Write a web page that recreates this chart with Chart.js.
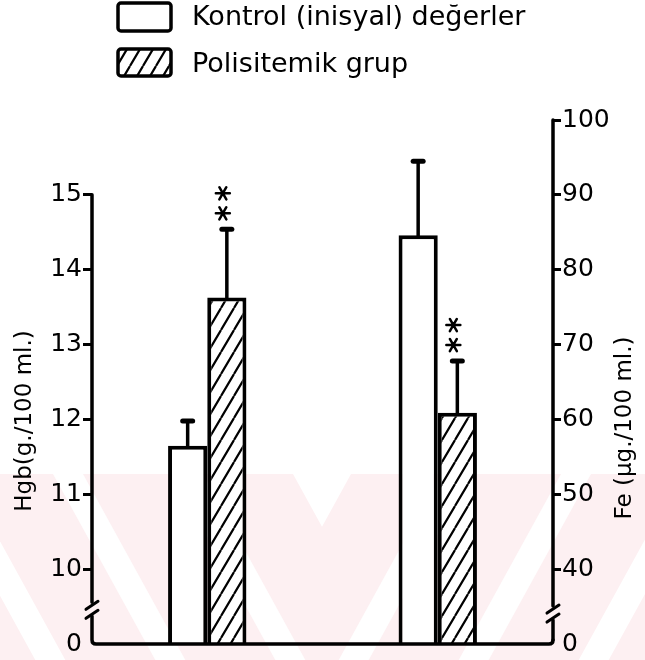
<!DOCTYPE html>
<html>
<head>
<meta charset="utf-8">
<script src="https://cdn.jsdelivr.net/npm/chart.js@4.4.0/dist/chart.umd.min.js"></script>
<style>
  html, body { margin: 0; padding: 0; background: #fff; }
  #wrap { width: 645px; height: 660px; position: relative; }
</style>
</head>
<body>
<div id="wrap"><canvas id="chart"></canvas></div>
<script>
// Data
const groups = ['Hgb', 'Fe'];
const seriesLabels = ['Kontrol (inisyal) değerler', 'Polisitemik grup'];
const hgbMeans = [11.65, 13.63];     // kontrol, polisitemik
const hgbErrTop = [11.98, 14.54];
const feMeans = [84.6, 60.9];
const feErrTop = [94.5, 67.8];
const hgbTicks = [9, 10, 11, 12, 13, 14, 15];   // 9 sits below the axis break
const hgbTickLabels = ['0', '10', '11', '12', '13', '14', '15'];
const feTicks = [30, 40, 50, 60, 70, 80, 90, 100]; // 30 sits below the axis break
const feTickLabels = ['0', '40', '50', '60', '70', '80', '90', '100'];
const hgbTitle = 'Hgb(g./100 ml.)';
const feTitle = 'Fe (µg./100 ml.)';

const FONT = '"DejaVu Sans", sans-serif';

// Hatch pattern for the polisitemik bars
function makeHatch() {
    const w = 13, h = 22;
    const c = document.createElement('canvas');
    c.width = w; c.height = h;
    const g = c.getContext('2d');
    g.fillStyle = '#fff';
    g.fillRect(0, 0, w, h);
    g.strokeStyle = '#000';
    g.lineWidth = 2.2;
    g.beginPath();
    for (let k = -2; k <= 2; k++) {
        g.moveTo(k * w, h);
        g.lineTo(k * w + w, 0);
    }
    g.stroke();
    return g.createPattern(c, 'repeat');
}
const hatch = makeHatch();

// Faint pink watermark of the scanned page
const watermark = {
    id: 'watermark',
    beforeDraw(chart) {
        const ctx = chart.ctx;
        const top = 474, bottom = 660, H = bottom - top, mid = 322;
        const slope = 0.55, sw = 30;
        ctx.save();
        ctx.fillStyle = '#fdf0f2';
        ctx.fillRect(0, top, chart.width, H);
        ctx.fillStyle = '#fff';
        ctx.save();
        ctx.beginPath();
        ctx.rect(0, top, mid, H);
        ctx.clip();
        [-67, 53, 173, 293].forEach(x0 => {
            ctx.beginPath();
            ctx.moveTo(x0, top);
            ctx.lineTo(x0 + sw, top);
            ctx.lineTo(x0 + sw + H * slope, bottom);
            ctx.lineTo(x0 + H * slope, bottom);
            ctx.closePath();
            ctx.fill();
        });
        ctx.restore();
        ctx.save();
        ctx.beginPath();
        ctx.rect(mid, top, chart.width - mid, H);
        ctx.clip();
        [351, 471, 591, 711].forEach(x0 => {
            ctx.beginPath();
            ctx.moveTo(x0, top);
            ctx.lineTo(x0 - sw, top);
            ctx.lineTo(x0 - sw - H * slope, bottom);
            ctx.lineTo(x0 - H * slope, bottom);
            ctx.closePath();
            ctx.fill();
        });
        ctx.restore();
        ctx.restore();
    }
};

function drawStar(ctx, x, y, r) {
    ctx.beginPath();
    for (let a = 0; a < 3; a++) {
        const t = a * Math.PI / 3;
        ctx.moveTo(x - r * Math.cos(t), y - r * Math.sin(t));
        ctx.lineTo(x + r * Math.cos(t), y + r * Math.sin(t));
    }
    ctx.stroke();
}

// Axes with breaks, error bars, asterisks, legend and titles
const decorations = {
    id: 'decorations',
    afterDatasetsDraw(chart) {
        const ctx = chart.ctx;
        const area = chart.chartArea;
        const yL = chart.scales.y, yR = chart.scales.y1;
        ctx.save();
        ctx.strokeStyle = '#000';
        ctx.fillStyle = '#000';
        ctx.lineWidth = 3.5;
        ctx.lineCap = 'round';

        // left axis with break
        const xl = area.left;
        const bl = yL.getPixelForValue(9.45);
        ctx.beginPath();
        ctx.moveTo(xl, yL.getPixelForValue(15));
        ctx.lineTo(xl, bl - 8);
        ctx.moveTo(xl, bl + 6);
        ctx.lineTo(xl, area.bottom - 4);
        ctx.quadraticCurveTo(xl, area.bottom, xl + 4, area.bottom);
        ctx.lineTo(area.right - 4, area.bottom);
        ctx.quadraticCurveTo(area.right, area.bottom, area.right, area.bottom - 4);
        ctx.stroke();
        ctx.lineWidth = 3;
        ctx.beginPath();
        ctx.moveTo(xl - 6, bl - 1); ctx.lineTo(xl + 6, bl - 9);
        ctx.moveTo(xl - 6, bl + 8); ctx.lineTo(xl + 6, bl);
        ctx.stroke();

        // right axis with break
        const xr = area.right;
        const br = yR.getPixelForValue(34);
        ctx.lineWidth = 3.5;
        ctx.beginPath();
        ctx.moveTo(xr, yR.getPixelForValue(100));
        ctx.lineTo(xr, br - 8);
        ctx.moveTo(xr, br + 6);
        ctx.lineTo(xr, area.bottom - 4);
        ctx.stroke();
        ctx.lineWidth = 3;
        ctx.beginPath();
        ctx.moveTo(xr - 6, br - 1); ctx.lineTo(xr + 6, br - 9);
        ctx.moveTo(xr - 6, br + 8); ctx.lineTo(xr + 6, br);
        ctx.stroke();

        // error bars and significance marks
        const errs = [[hgbErrTop[0], null], [hgbErrTop[1], null], [null, feErrTop[0]], [null, feErrTop[1]]];
        chart.data.datasets.forEach((ds, di) => {
            const meta = chart.getDatasetMeta(di);
            const scale = chart.scales[ds.yAxisID];
            meta.data.forEach((bar, i) => {
                const top = errs[di][i];
                if (top == null || ds.data[i] == null) return;
                const yTop = scale.getPixelForValue(top);
                ctx.lineWidth = 3.5;
                ctx.beginPath();
                ctx.moveTo(bar.x, bar.y);
                ctx.lineTo(bar.x, yTop);
                ctx.stroke();
                ctx.lineWidth = 5;
                ctx.beginPath();
                ctx.moveTo(bar.x - 5, yTop);
                ctx.lineTo(bar.x + 5, yTop);
                ctx.stroke();
                if (ds.sig) {
                    ctx.lineWidth = 2.5;
                    drawStar(ctx, bar.x - 4, yTop - 16, 7);
                    drawStar(ctx, bar.x - 4, yTop - 36, 7);
                }
            });
        });

        // legend
        ctx.lineWidth = 3.5;
        ctx.lineCap = 'butt';
        ctx.beginPath();
        ctx.roundRect(118, 3, 53, 28, 3);
        ctx.fillStyle = '#fff';
        ctx.fill();
        ctx.stroke();
        ctx.beginPath();
        ctx.roundRect(118, 49, 53, 27, 3);
        ctx.fillStyle = hatch;
        ctx.fill();
        ctx.stroke();
        ctx.fillStyle = '#000';
        ctx.font = '27px ' + FONT;
        ctx.textBaseline = 'middle';
        ctx.textAlign = 'left';
        ctx.fillText(seriesLabels[0], 192, 18, 358);
        ctx.fillText(seriesLabels[1], 192, 65, 250);

        // axis titles (both read bottom to top)
        ctx.font = '23px ' + FONT;
        ctx.textAlign = 'center';
        ctx.save();
        ctx.translate(25, 421);
        ctx.rotate(-Math.PI / 2);
        ctx.fillText(hgbTitle, 0, 0, 184);
        ctx.restore();
        ctx.save();
        ctx.translate(625, 428);
        ctx.rotate(-Math.PI / 2);
        ctx.fillText(feTitle, 0, 0, 206);
        ctx.restore();

        ctx.restore();
    }
};

const barStyle = { borderColor: '#000', borderWidth: 4, borderSkipped: 'bottom' };

const ctx = document.getElementById('chart').getContext('2d');
new Chart(ctx, {
    type: 'bar',
    data: {
        labels: groups,
        datasets: [
            Object.assign({ label: seriesLabels[0], data: [hgbMeans[0], null], yAxisID: 'y', backgroundColor: '#fff' }, barStyle),
            Object.assign({ label: seriesLabels[1], data: [hgbMeans[1], null], yAxisID: 'y', backgroundColor: hatch, sig: true }, barStyle),
            Object.assign({ label: seriesLabels[0], data: [null, feMeans[0]], yAxisID: 'y1', backgroundColor: '#fff' }, barStyle),
            Object.assign({ label: seriesLabels[1], data: [null, feMeans[1]], yAxisID: 'y1', backgroundColor: hatch, sig: true }, barStyle)
        ]
    },
    options: {
        responsive: true,
        maintainAspectRatio: false,
        animation: false,
        skipNull: true,
        barPercentage: 1,
        categoryPercentage: 0.34,
        layout: { padding: { top: 120, bottom: 5, left: 0, right: 0 } },
        plugins: {
            legend: { display: false },
            tooltip: { enabled: false }
        },
        scales: {
            x: { display: false },
            y: {
                position: 'left',
                min: 9,
                max: 16,
                afterBuildTicks: s => { s.ticks = hgbTicks.map(v => ({ value: v })); },
                afterFit: s => { s.width = 92; },
                ticks: {
                    callback: v => hgbTickLabels[hgbTicks.indexOf(v)],
                    color: '#000',
                    font: { family: FONT, size: 25 },
                    padding: 1
                },
                grid: {
                    drawOnChartArea: false,
                    tickLength: 9,
                    lineWidth: 3,
                    color: c => (c.tick && c.tick.value === 9) ? 'rgba(0,0,0,0)' : '#000'
                },
                border: { display: false }
            },
            y1: {
                position: 'right',
                min: 30,
                max: 100,
                afterBuildTicks: s => { s.ticks = feTicks.map(v => ({ value: v })); },
                afterFit: s => { s.width = 92; },
                ticks: {
                    callback: v => feTickLabels[feTicks.indexOf(v)],
                    color: '#000',
                    font: { family: FONT, size: 25 },
                    padding: 1
                },
                grid: {
                    drawOnChartArea: false,
                    tickLength: 8,
                    lineWidth: 3,
                    color: c => (c.tick && c.tick.value === 30) ? 'rgba(0,0,0,0)' : '#000'
                },
                border: { display: false }
            }
        }
    },
    plugins: [watermark, decorations]
});
</script>
</body>
</html>
